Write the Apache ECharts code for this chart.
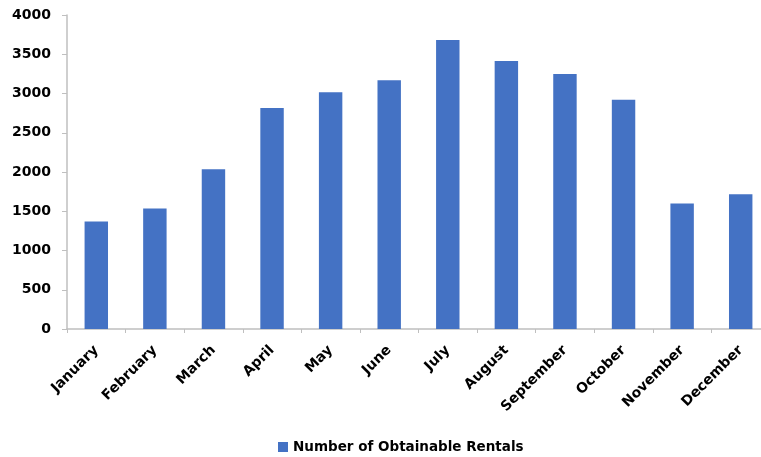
<!DOCTYPE html>
<html>
<head>
<meta charset="utf-8">
<script src="https://cdn.jsdelivr.net/npm/echarts@6/dist/echarts.min.js"></script>
<style>
  html, body { margin: 0; padding: 0; background: #fff; overflow: hidden; }
  /* plot area runs slightly past the right edge of the window */
  #chart { width: 770px; height: 457px; }
</style>
</head>
<body>
<div id="chart"></div>
<script>
// Monthly rentals available over the year
const months = ['January', 'February', 'March', 'April', 'May', 'June',
  'July', 'August', 'September', 'October', 'November', 'December'];
const rentals = [1370, 1535, 2035, 2815, 3015, 3170, 3680, 3415, 3250, 2920, 1600, 1715];
const seriesName = 'Number of Obtainable Rentals';
const yTicks = { min: 0, max: 4000, interval: 500 };

const font = 'DejaVu Sans';
const axisGray = '#BFBFBF';

const chart = echarts.init(document.getElementById('chart'), null, { renderer: 'canvas' });
chart.setOption({
  animation: false,
  backgroundColor: '#ffffff',
  grid: { left: 67, top: 15, right: 0, height: 314, containLabel: false },
  legend: {
    data: [seriesName],
    left: 273,
    top: 435,
    itemWidth: 10,
    itemHeight: 10,
    itemGap: 10,
    icon: 'rect',
    textStyle: { fontFamily: font, fontWeight: 'bold', fontSize: 13.5, color: '#000' }
  },
  xAxis: {
    type: 'category',
    data: months,
    axisLine: { lineStyle: { color: axisGray, width: 1.5 } },
    axisTick: { show: true, length: 4, lineStyle: { color: axisGray } },
    axisLabel: {
      rotate: 45,
      interval: 0,
      margin: 19,
      fontFamily: font,
      fontWeight: 'bold',
      fontSize: 14,
      color: '#000'
    }
  },
  yAxis: {
    type: 'value',
    min: yTicks.min,
    max: yTicks.max,
    interval: yTicks.interval,
    splitLine: { show: false },
    axisLine: { show: true, lineStyle: { color: axisGray, width: 1.5 } },
    axisTick: { show: true, length: 5, lineStyle: { color: axisGray } },
    axisLabel: {
      margin: 16,
      formatter: v => String(v),
      fontFamily: font,
      fontWeight: 'bold',
      fontSize: 14,
      color: '#000'
    }
  },
  series: [{
    name: seriesName,
    type: 'bar',
    data: rentals,
    barWidth: '40%',
    itemStyle: { color: '#4472C4' }
  }]
});
</script>
</body>
</html>
